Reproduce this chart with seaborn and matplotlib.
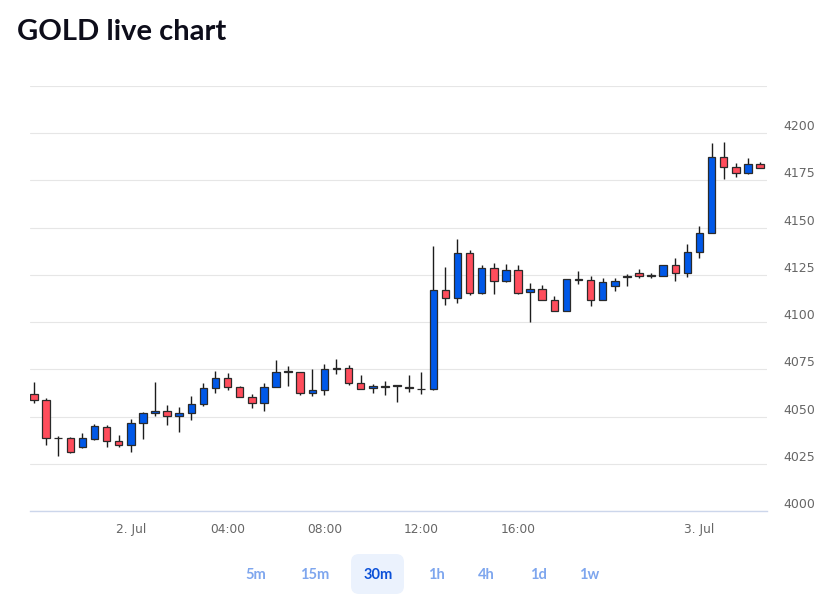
import numpy as np
import pandas as pd
import matplotlib
matplotlib.use("Agg")
import matplotlib.pyplot as plt
from matplotlib.patches import FancyBboxPatch
from matplotlib.transforms import IdentityTransform
import seaborn as sns

# 30 minute GOLD candles, 1 Jul 20:00 -> 3 Jul ~02:30 (ordinal axis, gaps skipped)
opens = [4062.0, 4058.8, 4038.9, 4038.4, 4033.8, 4038.0, 4044.7, 4037.2, 4035.0, 4046.7,
         4051.9, 4053.0, 4050.4, 4051.7, 4056.7, 4065.0, 4070.2, 4065.7, 4060.6, 4057.4,
         4065.7, 4073.6, 4073.4, 4062.5, 4064.3, 4075.3, 4075.9, 4067.6, 4065.0, 4065.9,
         4066.3, 4065.3, 4064.7, 4064.5, 4117.1, 4112.7, 4136.7, 4115.5, 4128.4, 4121.9,
         4127.7, 4115.7, 4117.7, 4111.8, 4106.0, 4122.3, 4122.2, 4111.8, 4118.9, 4124.0,
         4126.2, 4124.6, 4124.5, 4130.3, 4126.2, 4137.0, 4147.4, 4187.6, 4182.3, 4179.0,
         4183.6]
highs = [4068.3, 4059.9, 4039.8, 4039.0, 4041.2, 4045.8, 4045.6, 4040.3, 4048.6, 4052.5,
         4068.3, 4056.3, 4054.9, 4060.9, 4067.6, 4074.3, 4072.9, 4066.2, 4062.0, 4067.6,
         4080.0, 4076.8, 4073.6, 4075.2, 4077.9, 4080.3, 4077.1, 4072.2, 4067.5, 4069.0,
         4066.6, 4072.0, 4073.4, 4140.4, 4129.3, 4143.9, 4138.1, 4130.2, 4131.2, 4130.7,
         4130.0, 4120.7, 4119.8, 4114.0, 4123.0, 4126.8, 4124.4, 4123.6, 4123.4, 4125.4,
         4128.0, 4126.2, 4130.5, 4134.2, 4141.3, 4151.1, 4194.7, 4195.6, 4184.4, 4186.8,
         4185.0]
lows = [4057.4, 4035.2, 4029.2, 4030.6, 4033.5, 4037.7, 4034.1, 4033.8, 4031.1, 4038.2,
        4050.4, 4045.6, 4041.9, 4048.3, 4055.7, 4062.3, 4064.1, 4060.4, 4054.6, 4053.2,
        4065.5, 4066.2, 4061.6, 4061.1, 4061.6, 4072.6, 4066.8, 4064.4, 4062.3, 4061.5,
        4057.6, 4063.2, 4062.0, 4064.0, 4109.2, 4109.9, 4114.5, 4114.9, 4114.9, 4121.5,
        4115.0, 4100.2, 4111.5, 4105.8, 4105.8, 4120.1, 4108.7, 4111.5, 4116.7, 4119.2,
        4123.3, 4123.3, 4124.3, 4121.9, 4124.1, 4133.9, 4147.0, 4175.8, 4177.0, 4178.5,
        4181.4]
closes = [4058.8, 4038.7, 4038.5, 4031.3, 4038.5, 4044.9, 4037.3, 4035.0, 4046.7, 4051.7,
          4053.0, 4050.2, 4051.7, 4056.9, 4065.2, 4070.2, 4065.7, 4060.6, 4057.4, 4065.7,
          4073.8, 4073.9, 4062.5, 4064.3, 4075.0, 4075.6, 4067.6, 4064.8, 4066.0, 4066.1,
          4066.5, 4065.1, 4064.5, 4117.1, 4112.7, 4136.7, 4115.5, 4128.4, 4121.9, 4127.7,
          4115.5, 4117.7, 4111.8, 4106.0, 4122.8, 4122.5, 4111.8, 4121.0, 4121.7, 4124.2,
          4124.5, 4124.8, 4130.3, 4126.2, 4137.0, 4147.2, 4187.3, 4182.3, 4179.2, 4183.6,
          4181.6]

tick_candles = [8, 16, 24, 32, 40, 55]
tick_labels = ["2. Jul", "04:00", "08:00", "12:00", "16:00", "3. Jul"]
price_ticks = [4000, 4025, 4050, 4075, 4100, 4125, 4150, 4175, 4200, 4225]

intervals = ["5m", "15m", "30m", "1h", "4h", "1d", "1w"]
selected = "30m"

UP = "#0058e8"
DOWN = "#ff4d5c"

df = pd.DataFrame({"candle": np.arange(len(opens)), "open": opens, "high": highs,
                   "low": lows, "close": closes})
df["base"] = df[["open", "close"]].min(axis=1)
df["body"] = (df["close"] - df["open"]).abs().clip(lower=0.35)
df["color"] = np.where(df["close"] >= df["open"], UP, DOWN)

sns.set_theme(style="white")
plt.rcParams["font.family"] = ["DejaVu Sans"]

W, H = 838, 602
fig = plt.figure(figsize=(W / 100, H / 100), dpi=100)
ax = fig.add_axes([30 / W, 1 - 511 / H, 737 / W, 425 / H])

# wicks
ax.vlines(df["candle"], df["low"], df["high"], color="#1c1c1c", lw=1.0, zorder=2)

# bodies
sns.barplot(data=df, x="candle", y="body", bottom=df["base"].to_numpy(),
            native_scale=True, orient="x", errorbar=None, width=0.62,
            color=UP, edgecolor="#2a2a2a", linewidth=0.9, zorder=3, ax=ax)
for patch, c in zip(ax.patches, df["color"]):
    patch.set_facecolor(c)

ax.set_xlim(-0.33, 60.58)
ax.set_ylim(4000, 4225)

ax.set_xticks(tick_candles, tick_labels)
ax.set_yticks(price_ticks, [str(v) if v < 4225 else "" for v in price_ticks],
              va="bottom", ha="left")
ax.yaxis.tick_right()
ax.tick_params(axis="y", length=0, pad=11.5, labelsize=9, labelcolor="#666666")
ax.tick_params(axis="x", length=7.5, width=0.75, color="#ccd6eb", pad=1,
               labelsize=8.8, labelcolor="#666666", direction="out")
ax.grid(axis="y", color="#e6e6e6", lw=0.8)
ax.grid(axis="x", visible=False)
ax.set_axisbelow(True)
for side in ["left", "top", "right"]:
    ax.spines[side].set_visible(False)
ax.spines["bottom"].set_color("#ccd6eb")
ax.spines["bottom"].set_linewidth(1.0)
ax.set_xlabel("")
ax.set_ylabel("")

fig.text(17 / W, 1 - 40 / H, "GOLD live chart", fontsize=21, fontweight="bold",
         family=["Lato", "DejaVu Sans"], color="#0d0d1a", va="baseline", ha="left")

# range selector under the chart
centers = [256, 315, 378, 436, 486, 538, 589]
for label, cx in zip(intervals, centers):
    if label == selected:
        box = FancyBboxPatch((351, H - 594), 53, 40,
                             boxstyle="round,pad=0,rounding_size=8",
                             transform=IdentityTransform(), facecolor="#ebf2fd",
                             edgecolor="none", zorder=0)
        fig.patches.append(box)
    fig.text(cx / W, 1 - 575 / H, label, ha="center", va="center", fontsize=10.5,
             fontweight="bold", family=["Lato", "DejaVu Sans"],
             color="#0a50d8" if label == selected else "#7ea6ee")

fig.savefig("out.png", dpi=100)
